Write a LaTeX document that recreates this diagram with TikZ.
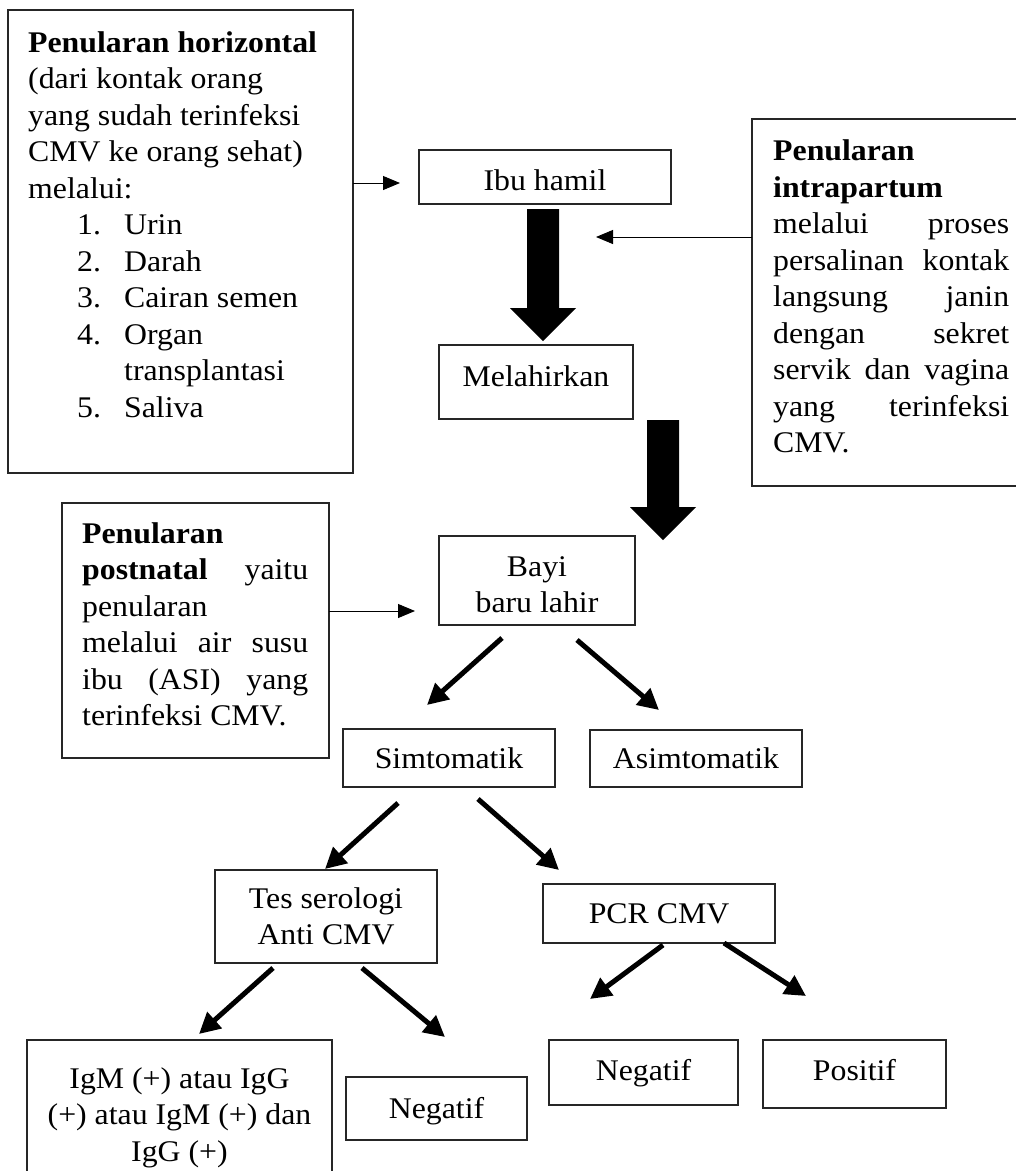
\documentclass[tikz,border=0pt]{standalone}
\usepackage{fontspec}
\setmainfont{Liberation Serif}[FakeStretch=1.06]
\usetikzlibrary{arrows.meta}
\begin{document}
\begin{tikzpicture}[x=1pt,y=-1pt,
  txt/.style={font=\fontsize{30}{36.5}\selectfont, inner sep=0pt},
  box/.style={draw=black!85, line width=1.2pt, inner sep=0pt},
  thinarrow/.style={line width=1pt, -{Triangle[length=17pt,width=14pt]}},
  thickarrow/.style={line width=5pt, -{Triangle[length=21pt,width=21pt]}},
  blockarrow/.style={fill=black},
]
\useasboundingbox (0,0) rectangle (1016,1171);

% ---------- boxes ----------
\node[box, minimum width=345pt, minimum height=463pt] (horiz) at (180.5,241.5) {};
\node[box, minimum width=252pt, minimum height=54pt] (ibu) at (545,177) {};
\node[box, minimum width=194pt, minimum height=74pt] (mel) at (536,382) {};
\node[box, minimum width=196pt, minimum height=89pt] (bayi) at (537,580.5) {};
\node[box, minimum width=267pt, minimum height=255pt] (post) at (195.5,630.5) {};
\node[box, minimum width=212pt, minimum height=58pt] (sim) at (449,758) {};
\node[box, minimum width=212pt, minimum height=57pt] (asim) at (696,758.5) {};
\node[box, minimum width=222pt, minimum height=93pt] (tes) at (326,916.5) {};
\node[box, minimum width=232pt, minimum height=59pt] (pcr) at (659,913.5) {};
\node[box, minimum width=181pt, minimum height=63pt] (neg1) at (436.5,1108.5) {};
\node[box, minimum width=189pt, minimum height=65pt] (neg2) at (643.5,1072.5) {};
\node[box, minimum width=183pt, minimum height=68pt] (pos) at (854.5,1074) {};
% boxes cut by the page edge
\draw[draw=black!85, line width=1.2pt] (1030,119) -| (752,486) -- (1030,486);
\draw[draw=black!85, line width=1.2pt] (27,1180) |- (332,1040) -- (332,1180);

% ---------- texts (base anchor = baseline of the last line) ----------
\node[txt, anchor=base west, align=left] (horiz-t) at (28,417)
  {\textbf{Penularan horizontal}\\(dari kontak orang\\yang sudah terinfeksi\\CMV ke orang sehat)\\melalui:\\
   \hspace*{49pt}\makebox[47pt][l]{1.}Urin\\
   \hspace*{49pt}\makebox[47pt][l]{2.}Darah\\
   \hspace*{49pt}\makebox[47pt][l]{3.}Cairan semen\\
   \hspace*{49pt}\makebox[47pt][l]{4.}Organ\\
   \hspace*{96pt}transplantasi\\
   \hspace*{49pt}\makebox[47pt][l]{5.}Saliva};
\node[txt, anchor=base west, align=left] (intra-t) at (773,452.5)
  {\textbf{Penularan}\\\textbf{intrapartum}\\
   \hbox to 236pt{melalui\hfill proses}\\
   \hbox to 236pt{persalinan\hfill kontak}\\
   \hbox to 236pt{langsung\hfill janin}\\
   \hbox to 236pt{dengan\hfill sekret}\\
   \hbox to 236pt{servik\hfill dan\hfill vagina}\\
   \hbox to 236pt{yang\hfill terinfeksi}\\
   CMV.};
\node[txt, anchor=base west, align=left] (post-t) at (82,725.5)
  {\textbf{Penularan}\\
   \hbox to 226pt{\textbf{postnatal}\hfill yaitu}\\
   penularan\\
   \hbox to 226pt{melalui\hfill air\hfill susu}\\
   \hbox to 226pt{ibu\hfill (ASI)\hfill yang}\\
   terinfeksi CMV.};
\node[txt, anchor=base] (ibu-t) at (545,190) {Ibu hamil};
\node[txt, anchor=base] (mel-t) at (536,386) {Melahirkan};
\node[txt, anchor=base, align=center] (bayi-t) at (537,612.5) {Bayi\\baru lahir};
\node[txt, anchor=base] (sim-t) at (449,768) {Simtomatik};
\node[txt, anchor=base] (asim-t) at (696,768) {Asimtomatik};
\node[txt, anchor=base, align=center] (tes-t) at (326,944.5) {Tes serologi\\Anti CMV};
\node[txt, anchor=base] (pcr-t) at (659,923) {PCR CMV};
\node[txt, anchor=base, align=center] (igm-t) at (179.5,1161) {IgM (+) atau IgG\\(+) atau IgM (+) dan\\IgG (+)};
\node[txt, anchor=base] (neg1-t) at (436.5,1118) {Negatif};
\node[txt, anchor=base] (neg2-t) at (643.5,1080) {Negatif};
\node[txt, anchor=base] (pos-t) at (854.5,1080) {Positif};

% ---------- block arrows ----------
\coordinate (b1) at (543,209);
\coordinate (b2) at (663,420);
\fill[blockarrow, shift={(b1)}] (-16,0) -- (16,0) -- (16,99) -- (33,99) -- (0,132) -- (-33,99) -- (-16,99) -- cycle;
\fill[blockarrow, shift={(b2)}] (-16,0) -- (16,0) -- (16,87) -- (33,87) -- (0,120) -- (-33,87) -- (-16,87) -- cycle;

% ---------- thin arrows ----------
\coordinate (h1) at (353,183); \coordinate (h2) at (400,183);
\coordinate (i1) at (752,237); \coordinate (i2) at (596,237);
\coordinate (p1) at (329,611); \coordinate (p2) at (415,611);
\draw[thinarrow] (h1) -- (h2);
\draw[thinarrow] (i1) -- (i2);
\draw[thinarrow] (p1) -- (p2);

% ---------- thick arrows ----------
\coordinate (a1s) at (502,638); \coordinate (a1e) at (427,705);
\coordinate (a2s) at (577,640); \coordinate (a2e) at (659,710);
\coordinate (a3s) at (398,803); \coordinate (a3e) at (325,869);
\coordinate (a4s) at (478,799); \coordinate (a4e) at (559,870);
\coordinate (a5s) at (273,968); \coordinate (a5e) at (199,1034);
\coordinate (a6s) at (362,968); \coordinate (a6e) at (445,1037);
\coordinate (a7s) at (663,945); \coordinate (a7e) at (590,999);
\coordinate (a8s) at (724,943); \coordinate (a8e) at (806,996);
\foreach \s/\e in {a1s/a1e,a2s/a2e,a3s/a3e,a4s/a4e,a5s/a5e,a6s/a6e,a7s/a7e,a8s/a8e}
  \draw[thickarrow] (\s) -- (\e);
\end{tikzpicture}
\end{document}
